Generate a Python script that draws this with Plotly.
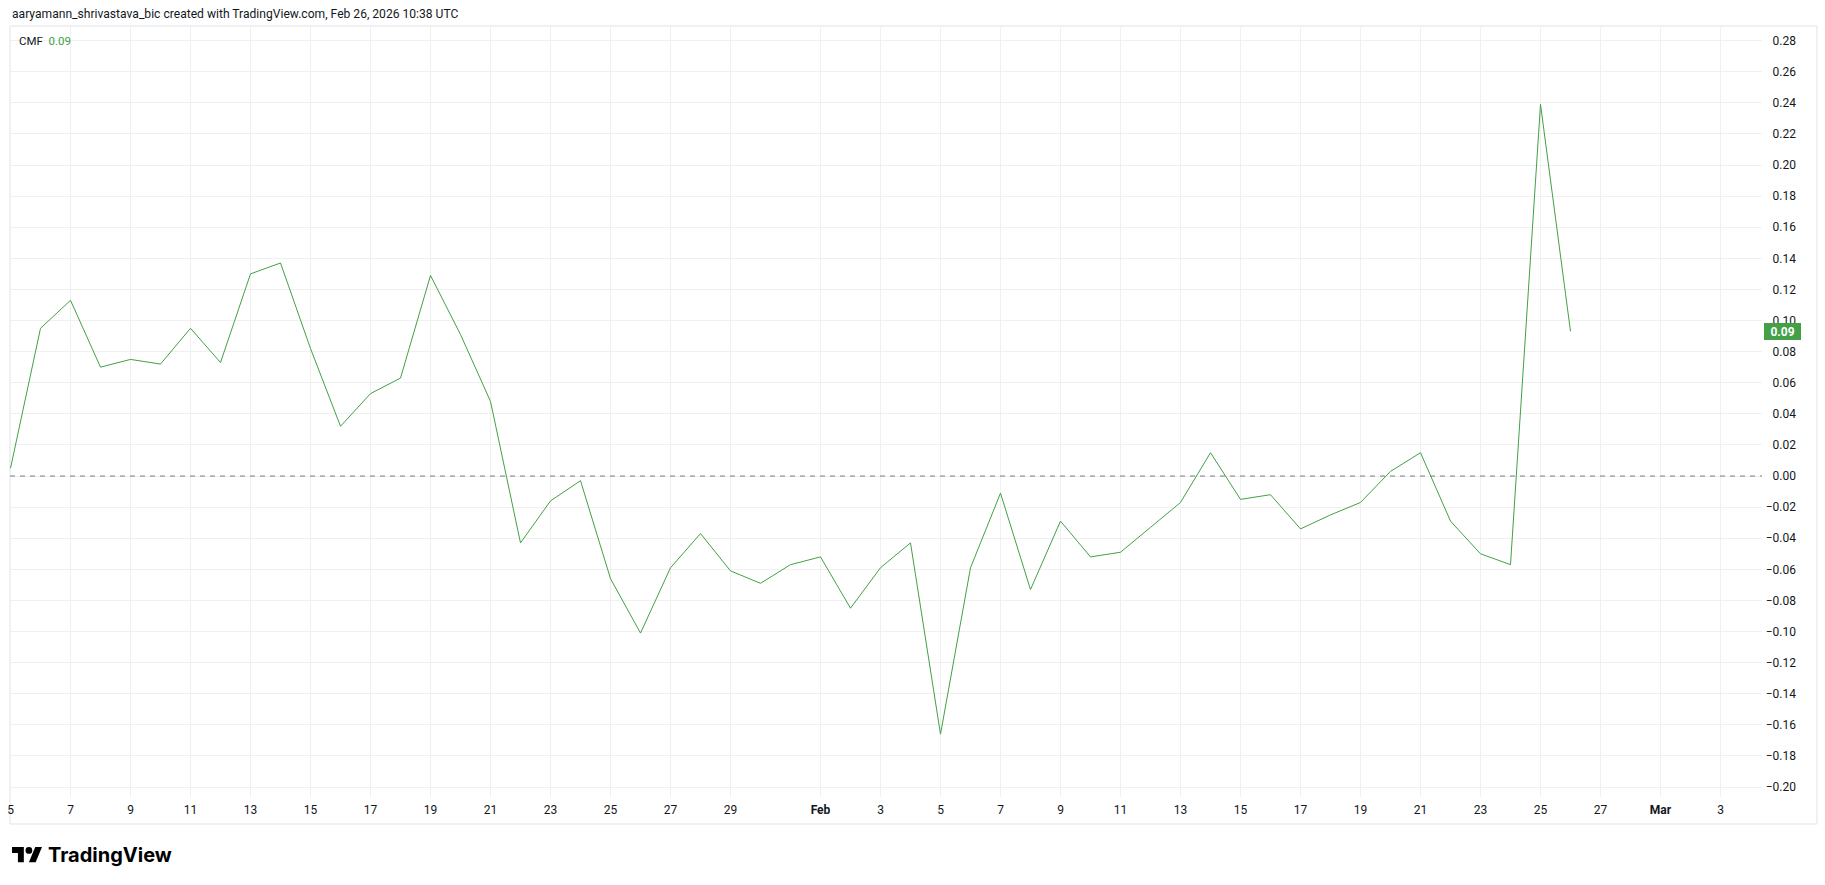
import pandas as pd
import plotly.graph_objects as go

# ---------------- data ----------------
start_date = "2026-01-05"
cmf_values = [
    0.005, 0.095, 0.113, 0.070, 0.075, 0.072, 0.095, 0.073, 0.130, 0.137,
    0.082, 0.032, 0.053, 0.063, 0.129, 0.091, 0.048, -0.043, -0.016, -0.003,
    -0.066, -0.101, -0.059, -0.037, -0.061, -0.069, -0.057,
    -0.052, -0.085, -0.059, -0.043, -0.166, -0.059, -0.011, -0.073, -0.029,
    -0.052, -0.049, -0.033, -0.017, 0.015, -0.015, -0.012, -0.034, -0.025,
    -0.017, 0.003, 0.015, -0.029, -0.050, -0.057, 0.239, 0.093,
]
dates = pd.date_range(start_date, periods=len(cmf_values), freq="D")

x_tick_dates = (
    [f"2026-01-{d:02d}" for d in range(5, 30, 2)]
    + ["2026-02-01"]
    + [f"2026-02-{d:02d}" for d in range(3, 28, 2)]
    + ["2026-03-01", "2026-03-03"]
)
x_tick_text = (
    [str(d) for d in range(5, 30, 2)]
    + ["<b>Feb</b>"]
    + [str(d) for d in range(3, 28, 2)]
    + ["<b>Mar</b>", "3"]
)
y_tick_vals = [round(-0.20 + 0.02 * i, 2) for i in range(25)]

header_text = "aaryamann_shrivastava_bic created with TradingView.com, Feb 26, 2026 10:38 UTC"
indicator_name = "CMF"

# ---------------- styling ----------------
W, H = 1825, 885
ML, MR, MT, MB = 10, 8, 26, 88
PLOT_RIGHT = 1762
PW = W - ML - MR
PH = H - MT - MB
GREEN = "#43a047"
TEXT = "#131722"
GRID = "#f0f0f0"
BORDER = "#e0e3eb"
FONT = "Roboto, 'Open Sans', sans-serif"


def px(xp):
    return (xp - ML) / PW


def py(yp):
    return (H - MB - yp) / PH


fig = go.Figure()
fig.add_trace(go.Scatter(
    x=dates, y=cmf_values, mode="lines",
    line=dict(color=GREEN, width=1),
    hoverinfo="skip", showlegend=False,
))

# zero reference level
fig.add_shape(type="line", xref="paper", yref="y", x0=0, x1=px(PLOT_RIGHT), y0=0, y1=0,
              line=dict(color="#787b86", width=1, dash="5px,5px"), layer="above")

# pane border
fig.add_shape(type="rect", xref="paper", yref="paper",
              x0=px(ML), x1=px(1817), y0=py(824), y1=py(MT),
              line=dict(color=BORDER, width=1), fillcolor="rgba(0,0,0,0)", layer="below")

x_start = pd.Timestamp("2026-01-05") - pd.Timedelta(minutes=24)
x_end = pd.Timestamp("2026-03-03") + pd.Timedelta(hours=33, minutes=12)

fig.update_layout(
    width=W, height=H,
    margin=dict(l=ML, r=MR, t=MT, b=MB, autoexpand=False),
    paper_bgcolor="white", plot_bgcolor="white",
    font=dict(family=FONT, size=12, color=TEXT),
    xaxis=dict(
        domain=[0, px(PLOT_RIGHT)],
        range=[x_start, x_end], automargin=False,
        tickmode="array", tickvals=x_tick_dates, ticktext=x_tick_text,
        showgrid=True, gridcolor=GRID, gridwidth=1,
        zeroline=False, showline=False, ticks="", ticklabelstandoff=4,
        tickfont=dict(size=12, color=TEXT),
    ),
    yaxis=dict(
        range=[-0.2064, 0.2894], automargin=False,
        anchor="free", side="left", position=px(1796),
        tickmode="array", tickvals=y_tick_vals, tickformat=".2f",
        showgrid=True, gridcolor=GRID, gridwidth=1,
        zeroline=False, showline=False, ticks="",
        tickfont=dict(size=12, color=TEXT),
    ),
)

last_val = cmf_values[-1]

annotations = [
    dict(text=header_text, xref="paper", yref="paper", x=px(10), y=py(14),
         xanchor="left", yanchor="middle", showarrow=False,
         font=dict(size=12.1, color=TEXT, family=FONT)),
    dict(text=f"{indicator_name}&nbsp;&nbsp;<span style='color:{GREEN}'>{last_val:.2f}</span>",
         xref="paper", yref="paper", x=px(17), y=py(41),
         xanchor="left", yanchor="middle", showarrow=False,
         font=dict(size=11.5, color=TEXT, family=FONT)),
    dict(text=f"<b>{last_val:.2f}</b>", xref="paper", yref="y", x=px(1764), y=last_val,
         xanchor="left", yanchor="middle", showarrow=False,
         bgcolor=GREEN, borderwidth=0, font=dict(size=12, color="white", family=FONT),
         width=35, height=15, borderpad=1, align="center"),
    dict(text="<b>TradingView</b>", xref="paper", yref="paper", x=px(46), y=py(855),
         xanchor="left", yanchor="middle", showarrow=False,
         font=dict(size=20, color="#000000", family="Inter, Roboto, sans-serif")),
]
fig.update_layout(annotations=annotations)

# TradingView logo glyph (decoration)
s = 0.845
ox, oy = 12, 847 - 4 * s


def P(x, y):
    return f"{px(ox + s * x):.6f},{py(oy + s * y):.6f}"


t_path = "M" + " L".join(P(*p) for p in [(14, 22), (7, 22), (7, 11), (0, 11), (0, 4), (14, 4)]) + " Z"
slash_path = "M" + " L".join(P(*p) for p in [(28, 22), (20, 22), (27.5, 4), (35.5, 4)]) + " Z"
fig.add_shape(type="path", xref="paper", yref="paper", path=t_path,
              fillcolor="#000000", line=dict(width=0))
fig.add_shape(type="path", xref="paper", yref="paper", path=slash_path,
              fillcolor="#000000", line=dict(width=0))
fig.add_shape(type="circle", xref="paper", yref="paper",
              x0=px(ox + s * 16), x1=px(ox + s * 24), y0=py(oy + s * 12), y1=py(oy + s * 4),
              fillcolor="#000000", line=dict(width=0))

fig.write_html("out.html", config={"displayModeBar": False},
               post_script="document.body.style.margin='0';document.body.style.overflow='hidden';")
